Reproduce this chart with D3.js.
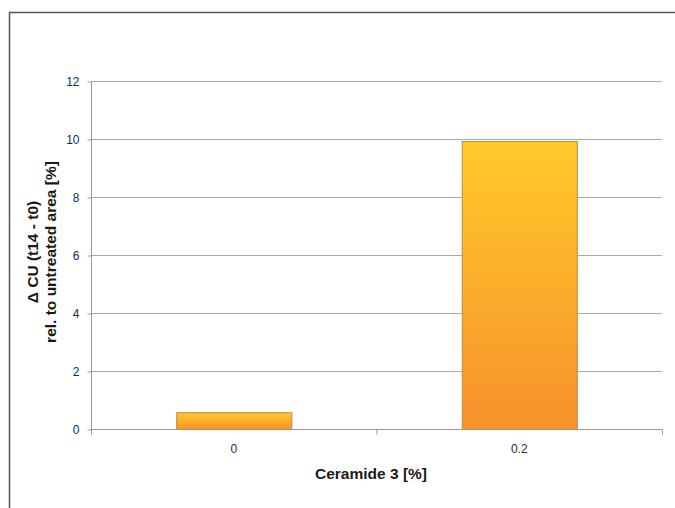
<!DOCTYPE html>
<html>
<head>
<meta charset="utf-8">
<script src="https://cdn.jsdelivr.net/npm/d3@7"></script>
<style>
  html, body { margin: 0; padding: 0; background: #fff; }
  svg { display: block; font-family: "Liberation Sans", Arial, sans-serif; }
</style>
</head>
<body>
<svg id="chart" width="675" height="508"></svg>
<script>
// Ceramide 3 dose vs change in CU relative to untreated area
const categories = ["0", "0.2"];
const values = [0.58, 9.93];
const yTicks = [0, 2, 4, 6, 8, 10, 12];

const svg = d3.select("#chart");
const W = 675, H = 508;
const margin = { left: 91, right: 13, top: 81, bottom: 79 };
const plotW = W - margin.left - margin.right;
const plotH = H - margin.top - margin.bottom;

// outer frame
svg.append("rect")
  .attr("x", 9.5).attr("y", 12.5)
  .attr("width", 700).attr("height", 520)
  .attr("fill", "none").attr("stroke", "#555").attr("stroke-width", 1.5);

const defs = svg.append("defs");
const grad = defs.append("linearGradient")
  .attr("id", "barFill").attr("x1", 0).attr("y1", 0).attr("x2", 0).attr("y2", 1);
grad.append("stop").attr("offset", "0%").attr("stop-color", "#FFCA2A");
grad.append("stop").attr("offset", "100%").attr("stop-color", "#F7912C");

const g = svg.append("g").attr("transform", `translate(${margin.left},${margin.top})`);

const x = d3.scaleBand().domain(categories).range([0, plotW])
  .paddingInner(0.597).paddingOuter(0.2985);
const xCat = d3.scaleBand().domain(categories).range([0, plotW]).padding(0);
const y = d3.scaleLinear().domain([0, 12]).range([plotH, 0]);

// horizontal gridlines
g.append("g").selectAll("line").data(yTicks.filter(d => d > 0)).join("line")
  .attr("x1", 0).attr("x2", plotW)
  .attr("y1", d => y(d) + 0.5).attr("y2", d => y(d) + 0.5)
  .attr("stroke", "#aaa").attr("stroke-width", 1);

// bars
g.append("g").selectAll("rect").data(categories).join("rect")
  .attr("x", d => x(d) + 0.5)
  .attr("y", (d, i) => y(values[i]) + 0.5)
  .attr("width", x.bandwidth())
  .attr("height", (d, i) => plotH - y(values[i]))
  .attr("fill", "url(#barFill)")
  .attr("stroke", "#b58d45").attr("stroke-width", 1);

// y axis
const yAxis = g.append("g").attr("transform", "translate(0.5,0.5)")
  .call(d3.axisLeft(y).tickValues(yTicks).tickSize(4).tickPadding(8).tickFormat(d3.format("d")));
yAxis.select(".domain").attr("stroke", "#999").attr("d", `M0,0V${plotH}`);
yAxis.selectAll(".tick line").attr("stroke", "#999");
yAxis.selectAll(".tick text").attr("fill", "#2a2a2a").style("font-size", "12px");

// x axis with category boundary ticks
const xAxis = g.append("g").attr("transform", `translate(0,${plotH + 0.5})`);
xAxis.append("line").attr("x1", 0).attr("x2", plotW).attr("stroke", "#999");
const bounds = categories.map(c => xCat(c)).concat([plotW]);
xAxis.selectAll("line.tk").data(bounds).join("line").attr("class", "tk")
  .attr("x1", d => d + 0.5).attr("x2", d => d + 0.5).attr("y1", 0).attr("y2", 5)
  .attr("stroke", "#999");
xAxis.selectAll("text").data(categories).join("text")
  .attr("x", d => xCat(d) + xCat.bandwidth() / 2)
  .attr("y", 23.5)
  .attr("text-anchor", "middle")
  .attr("fill", "#2a2a2a").style("font-size", "12px")
  .text(d => d);

// axis titles
svg.append("text")
  .attr("x", 371).attr("y", 479)
  .attr("text-anchor", "middle").attr("font-weight", "bold")
  .attr("fill", "#1a1a1a").style("font-size", "15.5px")
  .text("Ceramide 3 [%]");

const yTitle = svg.append("text")
  .attr("transform", `translate(0,${margin.top + plotH / 2 - 3}) rotate(-90)`)
  .attr("text-anchor", "middle").attr("font-weight", "bold")
  .attr("fill", "#1a1a1a").style("font-size", "15.5px");
yTitle.append("tspan").attr("x", 0).attr("y", 38).text("Δ CU (t14 - t0)");
yTitle.append("tspan").attr("x", 0).attr("y", 56).text("rel. to untreated area [%]");
</script>
</body>
</html>
